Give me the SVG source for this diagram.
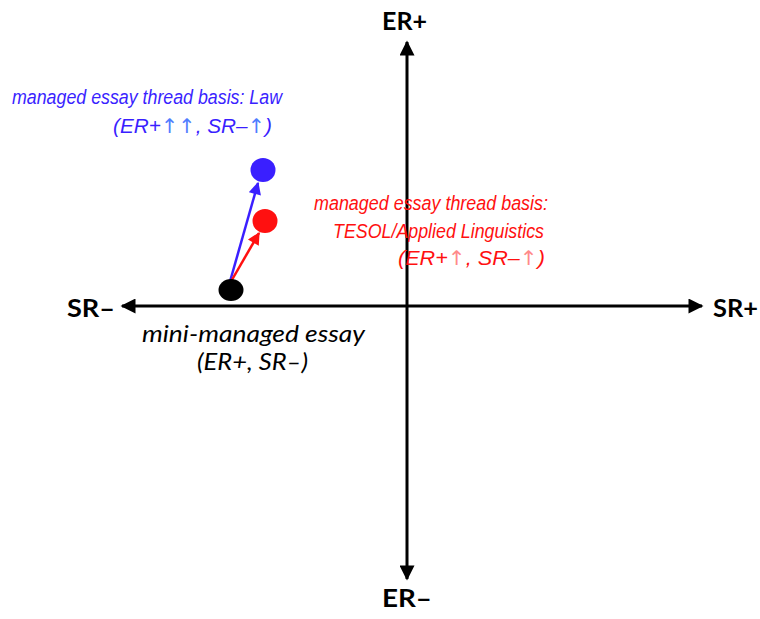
<svg xmlns="http://www.w3.org/2000/svg" width="760" height="619" viewBox="0 0 760 619">
<style>
.ax{font-family:Lato,"Liberation Sans",sans-serif;font-weight:bold;font-size:24px;fill:#000}
.it{font-family:"Liberation Sans",Arial,sans-serif;font-style:italic;font-size:20px}
.arw{font-family:"DejaVu Sans",sans-serif;font-style:normal}
.bk{font-family:Lato,"Liberation Sans",sans-serif;font-style:italic;font-size:23px;fill:#000}
.axis{stroke:#000;stroke-width:3;fill:none}
</style>
<defs>
<marker id="ah" viewBox="0 0 10 10" refX="9" refY="5" markerWidth="5.5" markerHeight="5" markerUnits="strokeWidth" orient="auto"><path d="M0,0 L10,5 L0,10 z" fill="#000"/></marker>
<marker id="ab" viewBox="0 0 10 10" refX="9" refY="5" markerWidth="6" markerHeight="5" markerUnits="strokeWidth" orient="auto"><path d="M0,0 L10,5 L0,10 z" fill="#3a1fff"/></marker>
<marker id="ar" viewBox="0 0 10 10" refX="9" refY="5" markerWidth="6" markerHeight="5" markerUnits="strokeWidth" orient="auto"><path d="M0,0 L10,5 L0,10 z" fill="#ff1010"/></marker>
</defs>
<g id="connectors">
<line class="axis" x1="407" y1="306" x2="407" y2="42" marker-end="url(#ah)"/>
<line class="axis" x1="407" y1="306" x2="407" y2="579" marker-end="url(#ah)"/>
<line class="axis" x1="407" y1="306" x2="122" y2="306" marker-end="url(#ah)"/>
<line class="axis" x1="407" y1="306" x2="702" y2="306" marker-end="url(#ah)"/>
<line x1="229" y1="285" x2="258" y2="183" stroke="#3a1fff" stroke-width="2.5" marker-end="url(#ab)"/>
<line x1="229" y1="285" x2="259" y2="233" stroke="#ff1010" stroke-width="2.5" marker-end="url(#ar)"/>
</g>
<g id="axis-labels">
<text class="ax" x="382" y="30" textLength="45" lengthAdjust="spacingAndGlyphs">ER+</text>
<text class="ax" x="382" y="607" textLength="50" lengthAdjust="spacingAndGlyphs">ER–</text>
<text class="ax" x="67" y="317" textLength="48" lengthAdjust="spacingAndGlyphs">SR–</text>
<text class="ax" x="713" y="317" textLength="45" lengthAdjust="spacingAndGlyphs">SR+</text>
</g>
<g id="node-law">
<ellipse cx="263" cy="170" rx="12.5" ry="12" fill="#3a1fff"/>
<text class="it" fill="#3a1fff" x="12" y="104" textLength="270" lengthAdjust="spacingAndGlyphs">managed essay thread basis: Law</text>
<text class="it" fill="#3a1fff" x="113" y="133" textLength="159" lengthAdjust="spacingAndGlyphs">(ER+<tspan class="arw" fill="#4f7dff">↑↑</tspan>, SR–<tspan class="arw" fill="#4f7dff">↑</tspan>)</text>
</g>
<g id="node-tesol">
<ellipse cx="265" cy="221" rx="12.5" ry="12" fill="#ff1010"/>
<text class="it" fill="#ff1010" x="314" y="210" textLength="234" lengthAdjust="spacingAndGlyphs">managed essay thread basis:</text>
<text class="it" fill="#ff1010" x="333" y="238" textLength="211" lengthAdjust="spacingAndGlyphs">TESOL/Applied Linguistics</text>
<text class="it" fill="#ff1010" x="398" y="265" textLength="147" lengthAdjust="spacingAndGlyphs">(ER+<tspan class="arw" fill="#ff8a8a">↑</tspan>, SR–<tspan class="arw" fill="#ff8a8a">↑</tspan>)</text>
</g>
<g id="node-mini">
<ellipse cx="231" cy="290" rx="12.5" ry="11" fill="#000"/>
<text class="bk" x="142" y="342" textLength="223" lengthAdjust="spacingAndGlyphs">mini-managed essay</text>
<text class="bk" x="197" y="370" textLength="111" lengthAdjust="spacingAndGlyphs">(ER+, SR–)</text>
</g>
</svg>
